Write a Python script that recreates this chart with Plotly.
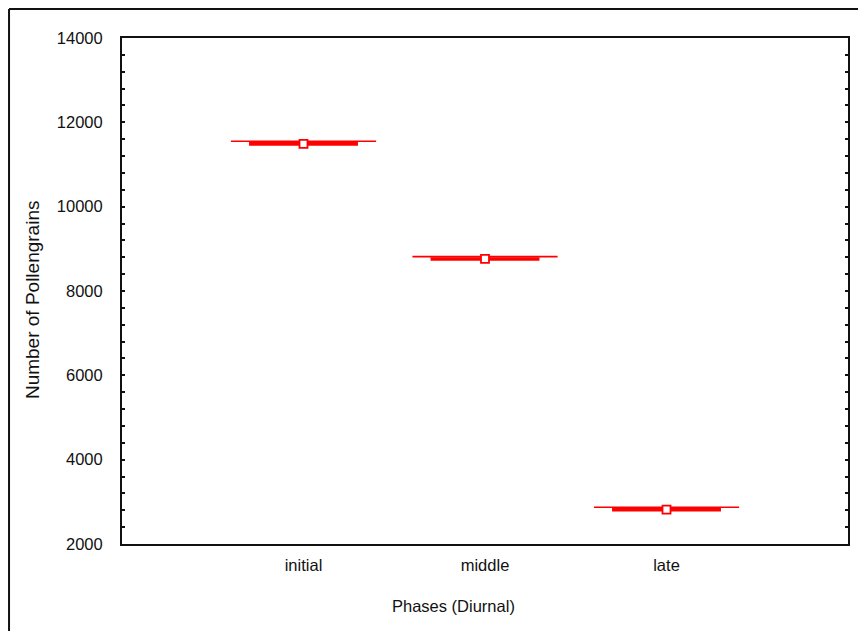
import plotly.graph_objects as go

phases = ["initial", "middle", "late"]
means = [11490, 8760, 2815]
upper_whisker = [11550, 8815, 2870]

y_ticks = [2000, 4000, 6000, 8000, 10000, 12000, 14000]
y_tick_labels = [str(v) for v in y_ticks]

x_title = "Phases (Diurnal)"
y_title = "Number of Pollengrains"

RED = "#ff0000"
CAP_HW = 0.40
BOX_HW = 0.30

pos = list(range(len(phases)))

cap_x, cap_y, box_x, box_y = [], [], [], []
for i, m, u in zip(pos, means, upper_whisker):
    cap_x += [i - CAP_HW, i + CAP_HW, None]
    cap_y += [u, u, None]
    box_x += [i - BOX_HW, i + BOX_HW, None]
    box_y += [m, m, None]

fig = go.Figure()
fig.add_trace(go.Scatter(x=cap_x, y=cap_y, mode="lines",
                         line=dict(color=RED, width=1.6), hoverinfo="skip"))
fig.add_trace(go.Scatter(x=box_x, y=box_y, mode="lines",
                         line=dict(color=RED, width=3.6), hoverinfo="skip"))
fig.add_trace(go.Scatter(x=pos, y=means, mode="markers",
                         marker=dict(symbol="square", size=8, color="white",
                                     line=dict(color=RED, width=1.8))))

font = "Liberation Sans, Arial, sans-serif"

fig.update_layout(
    width=866, height=631,
    margin=dict(l=114, r=26, t=30, b=95),
    paper_bgcolor="white", plot_bgcolor="white",
    showlegend=False,
    font=dict(family=font, size=16.5, color="#111"),
    xaxis=dict(
        range=[-1, 3], tickvals=pos, ticktext=phases,
        showline=True, linecolor="#111", linewidth=2, mirror=True,
        ticks="", showgrid=False, zeroline=False, automargin=False,
        ticklabelstandoff=5,
    ),
    yaxis=dict(
        range=[2000, 14000], tickvals=y_ticks, ticktext=y_tick_labels,
        showline=True, linecolor="#111", linewidth=2, mirror="ticks",
        ticks="inside", ticklen=3, tickwidth=2, tickcolor="#111",
        minor=dict(dtick=400, ticks="inside", ticklen=3, tickwidth=2, tickcolor="#111"),
        showgrid=False, zeroline=False, automargin=False,
        ticklabelstandoff=14,
    ),
    annotations=[
        dict(text=x_title, xref="paper", yref="paper", x=0.456, y=-0.123,
             xanchor="center", yanchor="middle", showarrow=False,
             font=dict(size=16.5)),
        dict(text=y_title, xref="paper", yref="paper", x=-0.124, y=0.484,
             xanchor="center", yanchor="middle", showarrow=False, textangle=-90,
             font=dict(size=19)),
    ],
    shapes=[
        dict(type="line", xref="paper", yref="paper",
             x0=-0.1556, x1=-0.1556, y0=1.0573, y1=-0.3,
             line=dict(color="#111", width=2)),
        dict(type="line", xref="paper", yref="paper",
             x0=-0.1556, x1=1.1, y0=1.0573, y1=1.0573,
             line=dict(color="#111", width=2)),
    ],
)

fig.write_html("out.html")
